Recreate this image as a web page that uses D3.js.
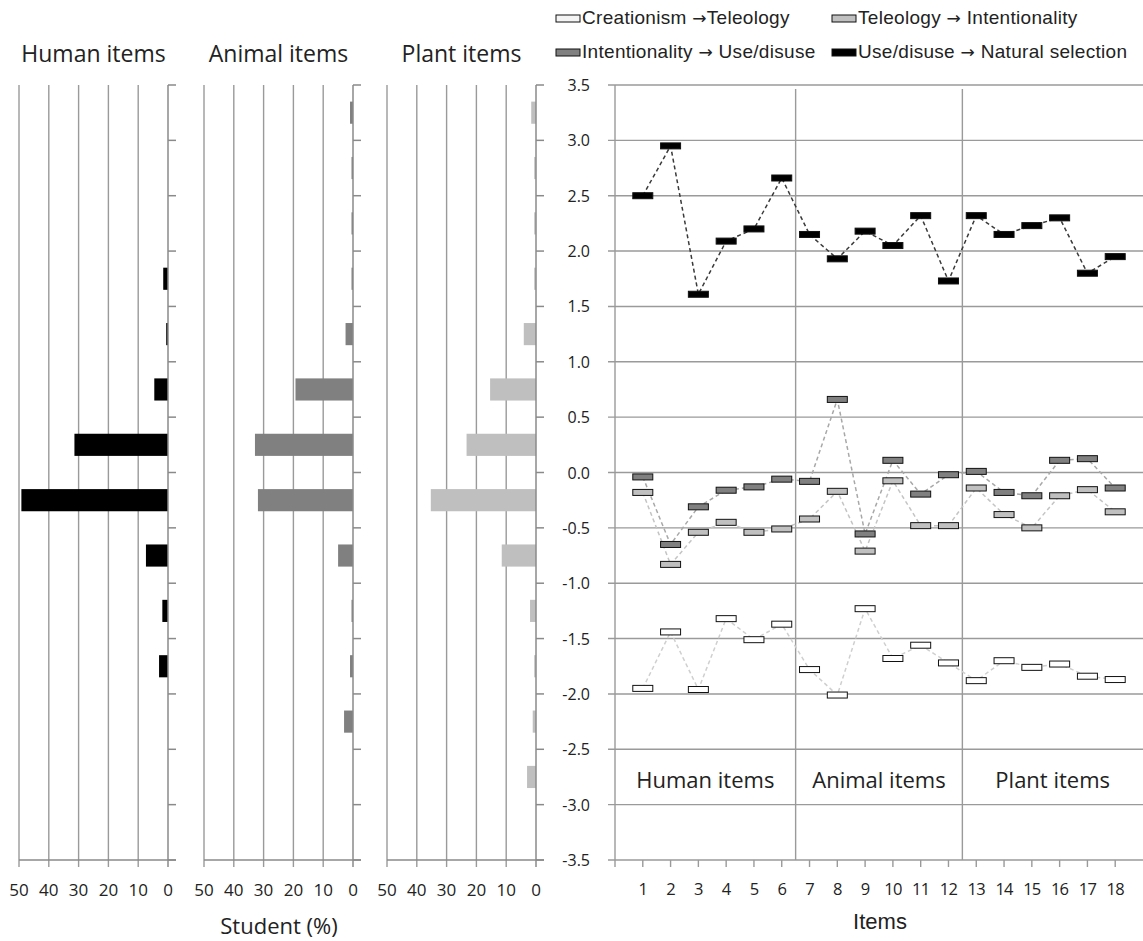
<!DOCTYPE html>
<html>
<head>
<meta charset="utf-8">
<script src="https://cdn.jsdelivr.net/npm/d3@7"></script>
<style>
  body { margin: 0; background: #fff; }
  text { fill: #222; }
</style>
</head>
<body>
<svg id="chart" width="1143" height="941"></svg>
<script>
// item numbers on the right panel
const items = [1, 2, 3, 4, 5, 6, 7, 8, 9, 10, 11, 12, 13, 14, 15, 16, 17, 18];
// mean scores per transition
const natSel = [2.50, 2.95, 1.61, 2.09, 2.20, 2.66, 2.15, 1.93, 2.18, 2.05, 2.32, 1.73, 2.32, 2.15, 2.23, 2.30, 1.80, 1.95];
const useDis = [-0.04, -0.65, -0.31, -0.16, -0.13, -0.06, -0.08, 0.66, -0.555, 0.11, -0.195, -0.02, 0.01, -0.18, -0.21, 0.11, 0.125, -0.14];
const intent = [-0.18, -0.83, -0.54, -0.45, -0.54, -0.51, -0.42, -0.17, -0.71, -0.075, -0.48, -0.48, -0.14, -0.38, -0.50, -0.21, -0.155, -0.355];
const teleo = [-1.95, -1.44, -1.96, -1.32, -1.51, -1.37, -1.78, -2.01, -1.23, -1.68, -1.56, -1.72, -1.88, -1.70, -1.76, -1.73, -1.84, -1.87];

// score bins (top to bottom) and student percentages per bin
const bins = ["3.0~3.5", "2.5~3.0", "2.0~2.5", "1.5~2.0", "1.0~1.5", "0.5~1.0", "0.0~0.5",
              "-0.5~0.0", "-1.0~-0.5", "-1.5~-1.0", "-2.0~-1.5", "-2.5~-2.0", "-3.0~-2.5", "-3.5~-3.0"];
const humanPct = [0, 0, 0, 1.6, 0.6, 4.6, 31.4, 49.2, 7.4, 1.9, 3.0, 0, 0, 0];
const animalPct = [1.0, 0.5, 0.5, 0.5, 2.5, 19.3, 32.9, 31.9, 5.0, 0.5, 1.0, 3.0, 0, 0];
const plantPct = [1.6, 0.6, 0.6, 0.6, 4.1, 15.4, 23.3, 35.3, 11.5, 2.0, 0.6, 1.1, 3.0, 0];

const pctTicks = [50, 40, 30, 20, 10, 0];
const scoreTicks = [3.5, 3.0, 2.5, 2.0, 1.5, 1.0, 0.5, 0.0, -0.5, -1.0, -1.5, -2.0, -2.5, -3.0, -3.5];
const groups = ["Human items", "Animal items", "Plant items"];
const groupCenters = [3.25, 9.5, 15.75];
const groupBreaks = [6.5, 12.5];

// legend labels split around the arrow
const legendFrom = ["Creationism ", "Teleology ", "Intentionality ", "Use/disuse "];
const legendTo = ["Teleology", " Intentionality", " Use/disuse", " Natural selection"];

const svg = d3.select("#chart");
const gridCol = "#9a9a9a";
const font = "'Open Sans', 'Noto Sans', sans-serif";

const y = d3.scaleLinear().domain([3.5, -3.5]).range([85, 860]);
const yBand = d3.scaleBand().domain(bins).range([85, 860]).paddingInner(0.6).paddingOuter(0.3);

// ---------- left panels ----------
const panels = [
  {name: groups[0], vals: humanPct, color: "#000000", x0: 168, x50: 19},
  {name: groups[1], vals: animalPct, color: "#808080", x0: 353, x50: 204},
  {name: groups[2], vals: plantPct, color: "#bfbfbf", x0: 536, x50: 387}
];

panels.forEach(p => {
  const x = d3.scaleLinear().domain([0, 50]).range([p.x0, p.x50]);
  const g = svg.append("g");

  g.selectAll(".vgrid")
    .data(pctTicks.filter(d => d > 0))
    .enter().append("line")
    .attr("x1", d => x(d)).attr("x2", d => x(d))
    .attr("y1", y(3.5)).attr("y2", y(-3.5) + 7)
    .attr("stroke", gridCol).attr("stroke-width", 1.4);

  g.selectAll(".bar")
    .data(p.vals)
    .enter().append("rect")
    .attr("x", d => x(d))
    .attr("y", (d, i) => yBand(bins[i]))
    .attr("width", d => x(0) - x(d))
    .attr("height", yBand.bandwidth())
    .attr("fill", p.color);

  // zero axis with ticks to the right
  g.append("line")
    .attr("x1", x(0)).attr("x2", x(0))
    .attr("y1", y(3.5)).attr("y2", y(-3.5) + 7)
    .attr("stroke", "#8a8a8a").attr("stroke-width", 1.5);
  g.selectAll(".ytick")
    .data(scoreTicks)
    .enter().append("line")
    .attr("x1", x(0)).attr("x2", x(0) + 8)
    .attr("y1", d => y(d)).attr("y2", d => y(d))
    .attr("stroke", "#8a8a8a").attr("stroke-width", 1.5);

  // bottom axis
  g.append("line")
    .attr("x1", x(50)).attr("x2", x(0) + 8)
    .attr("y1", y(-3.5)).attr("y2", y(-3.5))
    .attr("stroke", "#8a8a8a").attr("stroke-width", 1.5);

  g.selectAll(".xlab")
    .data(pctTicks)
    .enter().append("text")
    .attr("x", d => x(d)).attr("y", 896)
    .attr("text-anchor", "middle")
    .style("font-family", font).style("font-size", "17px")
    .text(d => d);

  g.append("text")
    .attr("x", (x(0) + x(50)) / 2).attr("y", 62)
    .attr("text-anchor", "middle")
    .style("font-family", font).style("font-size", "23px")
    .text(p.name);
});

svg.append("text")
  .attr("x", 279).attr("y", 934)
  .attr("text-anchor", "middle")
  .style("font-family", font).style("font-size", "22px")
  .text("Student (%)");

// ---------- right panel ----------
const x = d3.scaleLinear().domain([0, 19]).range([615, 1143]);

svg.selectAll(".hgrid")
  .data(scoreTicks)
  .enter().append("line")
  .attr("x1", 608).attr("x2", x(19))
  .attr("y1", d => y(d)).attr("y2", d => y(d))
  .attr("stroke", gridCol).attr("stroke-width", 1.4);

svg.selectAll(".sep")
  .data(groupBreaks)
  .enter().append("line")
  .attr("x1", d => x(d)).attr("x2", d => x(d))
  .attr("y1", y(3.5) + 4).attr("y2", y(-3.5))
  .attr("stroke", gridCol).attr("stroke-width", 1.4);

svg.append("line")
  .attr("x1", x(0)).attr("x2", x(0))
  .attr("y1", y(3.5)).attr("y2", y(-3.5) + 7)
  .attr("stroke", gridCol).attr("stroke-width", 1.4);

svg.selectAll(".xtick")
  .data(items)
  .enter().append("line")
  .attr("x1", d => x(d)).attr("x2", d => x(d))
  .attr("y1", y(-3.5)).attr("y2", y(-3.5) + 7)
  .attr("stroke", gridCol).attr("stroke-width", 1.4);

svg.selectAll(".ylab")
  .data(scoreTicks)
  .enter().append("text")
  .attr("x", 590).attr("y", d => y(d) + 6)
  .attr("text-anchor", "end")
  .style("font-family", font).style("font-size", "16px")
  .text(d => d3.format(".1f")(d).replace("\u2212", "-"));

svg.selectAll(".itemlab")
  .data(items)
  .enter().append("text")
  .attr("x", d => x(d)).attr("y", 895)
  .attr("text-anchor", "middle")
  .style("font-family", font).style("font-size", "16.5px")
  .style("letter-spacing", "-0.8px")
  .text(d => d);

svg.append("text")
  .attr("x", 880).attr("y", 929)
  .attr("text-anchor", "middle")
  .style("font-family", "'Liberation Sans Narrow', 'Liberation Sans', Arial, sans-serif")
  .style("font-size", "22px")
  .text("Items");

svg.selectAll(".grp")
  .data(groups)
  .enter().append("text")
  .attr("x", (d, i) => x(groupCenters[i])).attr("y", 788)
  .attr("text-anchor", "middle")
  .style("font-family", font).style("font-size", "22px")
  .text(d => d);

const series = [
  {vals: teleo, fill: "#ffffff", line: "#cfcfcf"},
  {vals: intent, fill: "#c0c0c0", line: "#c4c4c4"},
  {vals: useDis, fill: "#808080", line: "#a8a8a8"},
  {vals: natSel, fill: "#000000", line: "#3a3a3a"}
];

const line = d3.line().x((d, i) => x(items[i])).y(d => y(d));

series.forEach(s => {
  svg.append("path")
    .datum(s.vals)
    .attr("d", line)
    .attr("fill", "none")
    .attr("stroke", s.line)
    .attr("stroke-width", 1.5)
    .attr("stroke-dasharray", "4,3");
});

series.forEach(s => {
  svg.selectAll(null)
    .data(s.vals)
    .enter().append("rect")
    .attr("x", (d, i) => x(items[i]) - 10)
    .attr("y", d => y(d) - 3)
    .attr("width", 20).attr("height", 6)
    .attr("fill", s.fill)
    .attr("stroke", "#111").attr("stroke-width", 1);
});

// ---------- legend ----------
const legendPos = [[556, 18], [832, 18], [556, 52], [832, 52]];
const legendFill = ["#f4f4f4", "#c0c0c0", "#808080", "#000000"];
legendFrom.forEach((name, i) => {
  const [lx, ly] = legendPos[i];
  svg.append("rect")
    .attr("x", lx).attr("y", ly - 3)
    .attr("width", 24).attr("height", 7)
    .attr("fill", legendFill[i])
    .attr("stroke", "#111").attr("stroke-width", 1);
  const t = svg.append("text")
    .attr("x", lx + 26).attr("y", ly + 6)
    .style("font-family", "'Liberation Sans', Arial, sans-serif")
    .style("font-size", "19px")
    .style("letter-spacing", "0.3px");
  t.append("tspan").text(name);
  t.append("tspan").style("font-family", "'DejaVu Sans', sans-serif").style("font-size", "17px").text("\u2192");
  t.append("tspan").text(legendTo[i]);
});
</script>
</body>
</html>
